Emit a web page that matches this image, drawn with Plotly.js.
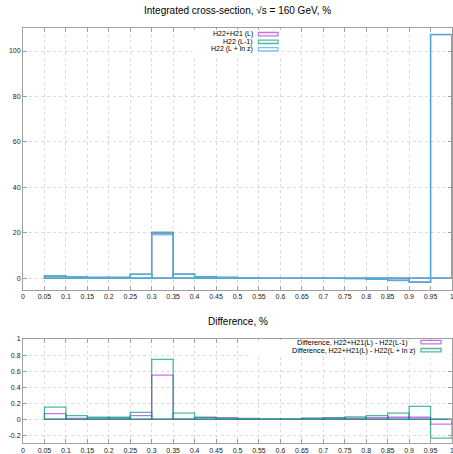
<!DOCTYPE html>
<html>
<head>
<meta charset="utf-8">
<script src="https://cdn.plot.ly/plotly-3.0.1.min.js"></script>
<style>html,body{margin:0;padding:0;background:#fff;}#chart{width:453px;height:454px;}</style>
</head>
<body>
<div id="chart"></div>
<script>
// ---- data ----
var binStarts = [0.05,0.10,0.15,0.20,0.25,0.30,0.35,0.40,0.45,0.50,0.55,0.60,0.65,0.70,0.75,0.80,0.85,0.90,0.95];
var binWidth = 0.05;
var sigmaH22H21L = [0.9,0.45,0.3,0.3,1.7,19.6,1.8,0.5,0.3,0.1,0.05,0.02,-0.05,-0.1,-0.1,-0.5,-0.9,-1.7,107.2];
var sigmaH22L1   = [1.0,0.5,0.3,0.3,1.75,20.2,1.8,0.5,0.3,0.1,0.05,0.02,-0.05,-0.1,-0.15,-0.55,-0.95,-1.9,107.3];
var sigmaH22Llnz = [0.8,0.45,0.3,0.3,1.7,19.1,1.8,0.5,0.3,0.1,0.05,0.02,-0.05,-0.1,-0.15,-0.55,-1.1,-1.9,107.2];
var diffL1   = [0.07,0.01,0.01,0.015,0.045,0.55,0.005,0.025,0.02,0.01,0.005,0.005,0.015,0.02,0.015,0.02,0.025,0.025,-0.06];
var diffLlnz = [0.15,0.045,0.025,0.025,0.085,0.745,0.075,0.02,0.01,0.006,0.005,0.005,0.01,0.015,0.03,0.045,0.075,0.16,-0.235];
var xTickVals = [0,0.05,0.1,0.15,0.2,0.25,0.3,0.35,0.4,0.45,0.5,0.55,0.6,0.65,0.7,0.75,0.8,0.85,0.9,0.95,1];
var xTickText = ["0","0.05","0.1","0.15","0.2","0.25","0.3","0.35","0.4","0.45","0.5","0.55","0.6","0.65","0.7","0.75","0.8","0.85","0.9","0.95","1"];
var yTopVals = [0,20,40,60,80,100];
var yTopText = ["0","20","40","60","80","100"];
var yBotVals = [-0.2,0,0.2,0.4,0.6,0.8,1];
var yBotText = ["-0.2","0","0.2","0.4","0.6","0.8","1"];
var topNames = ["H22+H21 (L)","H22 (L-1)","H22 (L + ln z)"];
var botNames = ["Difference, H22+H21(L) - H22(L-1)","Difference, H22+H21(L) - H22(L + ln z)"];
var titleTop = "Integrated cross-section, \u221As = 160 GeV, %";
var titleBot = "Difference, %";

// ---- style ----
var cPurple = "rgba(148,0,211,0.55)";
var cGreen = "rgba(0,158,115,0.7)";
var cBlue = "rgba(86,180,233,0.8)";
var FONT = "Liberation Sans, Arial, sans-serif";
var W = 453, H = 454, L = 23, R = 1;
function px(x){ return (x - L) / (W - L - R); }
function py(y){ return 1 - y / H; }

function boxTrace(vals, color, xa, ya){
  return {type:"bar", x:binStarts, y:vals, width:binWidth, offset:0,
    xaxis:xa, yaxis:ya, showlegend:false, hoverinfo:"skip",
    marker:{color:"rgba(0,0,0,0)", line:{color:color, width:1.3}}};
}
var traces = [
  boxTrace(sigmaH22H21L, cPurple, "x", "y"),
  boxTrace(sigmaH22L1, cGreen, "x", "y"),
  boxTrace(sigmaH22Llnz, cBlue, "x", "y"),
  boxTrace(diffL1, cPurple, "x2", "y2"),
  boxTrace(diffLlnz, cGreen, "x2", "y2")
];

var axBase = {showline:true, linecolor:"#a0a0a0", linewidth:1, mirror:"ticks",
  ticks:"inside", ticklen:4, tickcolor:"#a0a0a0", showgrid:true, gridcolor:"#dcdcdc",
  griddash:"dot", gridwidth:1, zeroline:false, ticklabeloverflow:"allow",
  tickfont:{family:FONT, size:7, color:"#222"}, fixedrange:true};
function ax(extra){ var o = {}; for (var k in axBase) o[k]=axBase[k]; for (var k2 in extra) o[k2]=extra[k2]; return o; }

var shapes = [], annotations = [];
// titles
annotations.push({xref:"paper", yref:"paper", x:0.5, y:py(10.5), xanchor:"center", yanchor:"middle",
  text:titleTop, showarrow:false, font:{family:FONT, size:10, color:"#000"}});
annotations.push({xref:"paper", yref:"paper", x:0.5, y:py(321.7), xanchor:"center", yanchor:"middle",
  text:titleBot, showarrow:false, font:{family:FONT, size:10, color:"#000"}});

// top legend
shapes.push({type:"rect", xref:"paper", yref:"paper", x0:px(192), x1:px(282), y0:py(29.5), y1:py(54), fillcolor:"#fff", line:{width:0}, layer:"above"});
var topColors = [cPurple, cGreen, cBlue];
var topRows = [34.2, 41.8, 49.3];
for (var i=0;i<3;i++){
  annotations.push({xref:"paper", yref:"paper", x:px(254.5), y:py(topRows[i]), xanchor:"right", yanchor:"middle",
    text:topNames[i], showarrow:false, font:{family:FONT, size:7, color:"#000"}});
  shapes.push({type:"rect", xref:"paper", yref:"paper", x0:px(258.5), x1:px(278), y0:py(topRows[i]-1.7), y1:py(topRows[i]+1.7),
    fillcolor:"rgba(0,0,0,0)", line:{color:topColors[i], width:1.3}, layer:"above"});
}
// bottom legend
shapes.push({type:"rect", xref:"paper", yref:"paper", x0:px(252), x1:px(451.5), y0:py(339.8), y1:py(356), fillcolor:"#fff", line:{width:0}, layer:"above"});
var botColors = [cPurple, cGreen];
var botRows = [342.1, 350.2];
var botRight = [409.5, 417];
for (var j=0;j<2;j++){
  annotations.push({xref:"paper", yref:"paper", x:px(botRight[j]), y:py(botRows[j]), xanchor:"right", yanchor:"middle",
    text:botNames[j], showarrow:false, font:{family:FONT, size:7.2, color:"#000"}});
  shapes.push({type:"rect", xref:"paper", yref:"paper", x0:px(421), x1:px(441), y0:py(botRows[j]-1.7), y1:py(botRows[j]+1.7),
    fillcolor:"rgba(0,0,0,0)", line:{color:botColors[j], width:1.3}, layer:"above"});
}

var layout = {
  width:W, height:H, margin:{l:L, r:R, t:0, b:0}, paper_bgcolor:"#fff", plot_bgcolor:"#fff",
  barmode:"overlay", showlegend:false, font:{family:FONT},
  xaxis: ax({domain:[0,1], range:[0,1], tickmode:"array", tickvals:xTickVals, ticktext:xTickText, anchor:"y"}),
  yaxis: ax({domain:[py(289.5), py(28.3)], range:[-5,110], tickmode:"array", tickvals:yTopVals, ticktext:yTopText, anchor:"x"}),
  xaxis2: ax({domain:[0,1], range:[0,1], tickmode:"array", tickvals:xTickVals, ticktext:xTickText, anchor:"y2"}),
  yaxis2: ax({domain:[py(443.3), py(339)], range:[-0.3,1], tickmode:"array", tickvals:yBotVals, ticktext:yBotText, anchor:"x2"}),
  shapes:shapes, annotations:annotations
};
Plotly.newPlot("chart", traces, layout, {staticPlot:true, displayModeBar:false});
</script>
</body>
</html>
